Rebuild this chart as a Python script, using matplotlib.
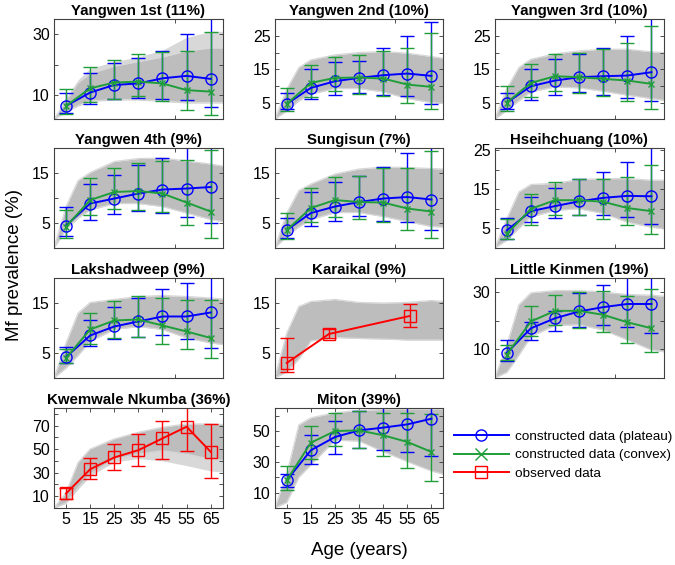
import matplotlib
matplotlib.use("Agg")
import matplotlib.pyplot as plt
from matplotlib.lines import Line2D
import numpy as np

plt.rcParams["font.family"] = ["Liberation Sans", "DejaVu Sans"]

AGES = [5, 15, 25, 35, 45, 55, 65]
BAND_AGES = [0, 5, 10, 15, 25, 35, 45, 55, 65, 70]

# Yangwen 1st
yw1_plat = [6.4, 10.8, 13.3, 13.8, 15.5, 16.3, 15.3]
yw1_plat_lo = [4, 6.9, 8.7, 8.9, 8.7, 8.4, 5.9]
yw1_plat_hi = [10.5, 17.4, 20.7, 22.1, 24.6, 30, 36]
yw1_conv = [6.4, 12.2, 14.1, 14.4, 13.8, 11.6, 11.1]
yw1_conv_lo = [3.7, 7.8, 8.6, 9.5, 8.1, 5, 3.4]
yw1_conv_hi = [12, 19.3, 21.5, 23.4, 24.3, 24.5, 30.9]
yw1_band_lo = [2, 4.5, 6.5, 8, 8.5, 8.5, 8, 7.5, 7.5, 7.5]
yw1_band_hi = [2, 8, 14, 17, 19.5, 21, 22.5, 24.5, 25.5, 25.5]
yw1_halo_lo = [2, 4.3, 6.3, 7.8, 8.3, 8.3, 7.8, 7.3, 7.3, 7.3]
yw1_halo_hi = [2, 9, 15, 18.8, 21, 22.6, 24.8, 29, 31, 31]

# Yangwen 2nd
yw2_plat = [4.6, 9.4, 11.4, 12.4, 13.2, 13.7, 13.0]
yw2_plat_lo = [3, 6, 7.4, 7.9, 7.2, 7, 4.7]
yw2_plat_hi = [8, 15, 17.3, 17.5, 21.5, 25.1, 29.3]
yw2_conv = [4.6, 10.9, 12.4, 12.5, 12.2, 10.4, 9.7]
yw2_conv_lo = [2.4, 6.7, 8.4, 7.7, 7, 4.9, 3]
yw2_conv_hi = [9.4, 16.3, 18.8, 19.3, 20.5, 21.3, 25.8]
yw2_band_lo = [0, 2.5, 5.5, 7.5, 9.2, 9.2, 8.2, 6.2, 5, 4.7]
yw2_band_hi = [0, 9, 15.5, 17.8, 19.3, 20, 20.3, 19.8, 18.8, 18.3]

# Yangwen 3rd
yw3_plat = [5, 9.9, 11.6, 12.6, 12.9, 13.1, 14.1]
yw3_plat_lo = [3, 5.9, 7.4, 8.2, 7.2, 6.4, 5.4]
yw3_plat_hi = [8, 15, 18.1, 19.6, 21.5, 25, 31]
yw3_conv = [5, 10.9, 12.9, 12.6, 12.1, 11.6, 10.6]
yw3_conv_lo = [2.4, 6.7, 8.4, 8, 6.9, 5.4, 3.2]
yw3_conv_hi = [9.9, 16.6, 19.6, 20, 21, 23, 28]
yw3_band_lo = [0, 2.7, 5.5, 8.2, 9.7, 9.4, 8.4, 7.2, 6.2, 5.7]
yw3_band_hi = [0, 9.2, 15.5, 18, 19.6, 20.5, 21, 21, 20.2, 20]

# Yangwen 4th
yw4_plat = [4.5, 8.9, 9.9, 10.9, 11.7, 11.9, 12.2]
yw4_plat_lo = [2.4, 5.7, 6.8, 7.5, 7, 6.3, 5.1]
yw4_plat_hi = [8.3, 12.8, 14.7, 16.6, 18.1, 21, 21]
yw4_conv = [4.3, 9.6, 11.2, 11.4, 10.9, 9.1, 7.3]
yw4_conv_lo = [2.1, 6.6, 7.9, 7.7, 7.3, 4.7, 2.1]
yw4_conv_hi = [7.7, 14, 16.1, 17.1, 17.4, 17.7, 19.7]
yw4_band_lo = [0, 3.7, 6, 7.6, 8.9, 8.9, 8.3, 7, 5.7, 5.3]
yw4_band_hi = [0, 8.3, 13.5, 15.1, 17.3, 17.9, 18, 17.4, 16.8, 16.4]

# Sungisun
sun_plat = [3.6, 7, 8.3, 9.2, 9.9, 10.2, 9.7]
sun_plat_lo = [2, 4.5, 5.5, 6.4, 5.5, 5.3, 3.7]
sun_plat_hi = [6, 11.2, 13.2, 14.5, 16.2, 19, 21]
sun_conv = [3.6, 8, 9.6, 9.2, 9.1, 7.9, 7.3]
sun_conv_lo = [1.9, 5.2, 6.3, 5.8, 5.3, 3.6, 2.1]
sun_conv_hi = [7.1, 12, 14.2, 14.5, 16, 16.1, 19.5]
sun_band_lo = [0, 2.4, 4.2, 5.7, 7.1, 7.1, 6.3, 5.3, 4.3, 4.2]
sun_band_hi = [0, 7, 11.5, 12.8, 14.8, 15.8, 16.2, 16.1, 15.9, 15.8]

# Hseihchuang
hse_plat = [4.5, 9.4, 10.7, 11.9, 12.8, 13.3, 13.2]
hse_plat_lo = [2.4, 6.6, 7.6, 8.5, 8.3, 7.9, 6.2]
hse_plat_hi = [7.6, 13, 15.3, 17.7, 19.3, 22, 27]
hse_conv = [3.6, 10, 12.2, 12.2, 11.8, 10.2, 9.4]
hse_conv_lo = [2.4, 6, 8.3, 8.3, 7.5, 5.8, 3.6]
hse_conv_hi = [7.3, 13.9, 16.9, 17.7, 17.7, 18.2, 21.2]
hse_band_lo = [0, 2, 5, 7.9, 9.6, 10, 8.8, 6.6, 5.3, 4.9]
hse_band_hi = [0, 7.5, 14.3, 16.2, 16.5, 17.5, 17.7, 17.7, 17.3, 17.3]

# Lakshadweep
lak_plat = [4.2, 8.5, 10.3, 11.3, 12.3, 12.3, 13.1]
lak_plat_lo = [3, 6.3, 7.7, 8.2, 8.5, 7.8, 6]
lak_plat_hi = [6.1, 11.5, 14.2, 16, 17.8, 19, 21]
lak_conv = [4, 9.7, 11.5, 11.7, 10.5, 9.3, 8]
lak_conv_lo = [3, 6.7, 8, 8.2, 6.7, 5.7, 4]
lak_conv_hi = [5.7, 13, 15.3, 16.3, 16, 15.5, 15.5]
lak_band_lo = [0, 2, 4.5, 7.3, 9.7, 10.3, 9.7, 8, 7, 6.7]
lak_band_hi = [0, 7, 13, 15.1, 15.7, 16.3, 16.5, 16.3, 16, 15.8]

# Karaikal (observed only)
kar_ages = [5, 22.5, 56]
kar_obs = [3, 8.8, 12.4]
kar_obs_lo = [1.1, 7.9, 10.2]
kar_obs_hi = [7.9, 9.7, 14.7]
kar_band_lo = [0, 1.2, 3.8, 7.4, 8.1, 7.9, 7.8, 7.6, 7.6, 7.6]
kar_band_hi = [0, 9, 14.3, 15.3, 15.7, 15.1, 15, 15.1, 15.5, 15.3]

# Little Kinmen
lkm_plat = [8.8, 17.4, 20.9, 23.3, 24.8, 25.9, 25.9]
lkm_plat_lo = [5.9, 13.3, 16.5, 18, 18.6, 18, 15.6]
lkm_plat_hi = [13.3, 19.5, 23.5, 29.8, 32.7, 36, 36]
lkm_conv = [8.2, 19.8, 23.5, 23.5, 22.1, 19.5, 17.4]
lkm_conv_lo = [6.2, 14.8, 18.4, 17.4, 16.2, 12.1, 9.2]
lkm_conv_hi = [11.5, 25.1, 29.2, 30, 30.4, 28.6, 31]
lkm_band_lo = [0, 2, 8, 14.5, 18.4, 18.6, 16.8, 13.3, 9.8, 9.2]
lkm_band_hi = [0, 11.5, 25.6, 29.8, 30.6, 30.6, 30.1, 29.2, 29, 28.6]

# Kwemwale Nkumba (observed only)
kwe_obs = [12.3, 32.9, 42.9, 49.1, 59.1, 69, 47.7]
kwe_obs_lo = [8, 24.3, 32, 35.7, 41.4, 48, 25.1]
kwe_obs_hi = [17.1, 42.3, 54.3, 62.9, 74.3, 85.7, 71.4]
kwe_band_lo = [0, 4.3, 17, 28.6, 41.4, 45.7, 48.6, 45.7, 41.4, 40.6]
kwe_band_hi = [0, 12.9, 38.6, 50, 58.6, 64.3, 68.6, 71.4, 71.4, 70.9]
kwe_halo_lo = [0, 4, 16, 27, 39, 42, 40, 36, 31.4, 30.5]
kwe_halo_hi = [0, 12.9, 38.6, 50, 58.6, 64.3, 68.6, 71.4, 71.4, 70.9]

# Miton
mit_plat = [18, 37.5, 46.1, 50.4, 52.2, 54.3, 58]
mit_plat_lo = [13.3, 28.4, 35.3, 38.8, 37.5, 36.6, 33.8]
mit_plat_hi = [22, 47.4, 56.5, 63, 66, 66, 66]
mit_conv = [18, 42.4, 50, 50.4, 47.2, 42.9, 36.4]
mit_conv_lo = [11.8, 31.6, 40.3, 38.8, 33.8, 26.2, 17.2]
mit_conv_hi = [27.3, 53.2, 61.9, 63, 61.9, 61.9, 61.2]
mit_band_lo = [0, 3.6, 20, 28, 44, 43.5, 36.6, 30.1, 24, 21.9]
mit_band_hi = [0, 22, 54, 58.6, 61.9, 63.4, 64, 64, 64, 64]

BLUE = "#0000ff"
GREEN = "#1f9e3a"
RED = "#ff0000"
GRAY = "#bdbdbd"
LIGHT = "#d8d8d8"

panels = [
    dict(title="Yangwen 1st (11%)", ylim=(2, 35), major=[10, 30], minor=[20],
         band=(yw1_band_lo, yw1_band_hi), halo=(yw1_halo_lo, yw1_halo_hi),
         plat=(yw1_plat, yw1_plat_lo, yw1_plat_hi), conv=(yw1_conv, yw1_conv_lo, yw1_conv_hi)),
    dict(title="Yangwen 2nd (10%)", ylim=(0, 30), major=[5, 15, 25], minor=[10, 20],
         band=(yw2_band_lo, yw2_band_hi),
         plat=(yw2_plat, yw2_plat_lo, yw2_plat_hi), conv=(yw2_conv, yw2_conv_lo, yw2_conv_hi)),
    dict(title="Yangwen 3rd (10%)", ylim=(0, 30), major=[5, 15, 25], minor=[10, 20],
         band=(yw3_band_lo, yw3_band_hi),
         plat=(yw3_plat, yw3_plat_lo, yw3_plat_hi), conv=(yw3_conv, yw3_conv_lo, yw3_conv_hi)),
    dict(title="Yangwen 4th (9%)", ylim=(0, 20), major=[5, 15], minor=[10],
         band=(yw4_band_lo, yw4_band_hi),
         plat=(yw4_plat, yw4_plat_lo, yw4_plat_hi), conv=(yw4_conv, yw4_conv_lo, yw4_conv_hi)),
    dict(title="Sungisun (7%)", ylim=(0, 20), major=[5, 15], minor=[10],
         band=(sun_band_lo, sun_band_hi),
         plat=(sun_plat, sun_plat_lo, sun_plat_hi), conv=(sun_conv, sun_conv_lo, sun_conv_hi)),
    dict(title="Hseihchuang (10%)", ylim=(0, 25.5), major=[5, 15, 25], minor=[10, 20],
         band=(hse_band_lo, hse_band_hi),
         plat=(hse_plat, hse_plat_lo, hse_plat_hi), conv=(hse_conv, hse_conv_lo, hse_conv_hi)),
    dict(title="Lakshadweep (9%)", ylim=(0, 20), major=[5, 15], minor=[10],
         band=(lak_band_lo, lak_band_hi),
         plat=(lak_plat, lak_plat_lo, lak_plat_hi), conv=(lak_conv, lak_conv_lo, lak_conv_hi)),
    dict(title="Karaikal (9%)", ylim=(0, 20), major=[5, 15], minor=[10],
         band=(kar_band_lo, kar_band_hi),
         obs=(kar_ages, kar_obs, kar_obs_lo, kar_obs_hi)),
    dict(title="Little Kinmen (19%)", ylim=(0, 35), major=[10, 30], minor=[20],
         band=(lkm_band_lo, lkm_band_hi),
         plat=(lkm_plat, lkm_plat_lo, lkm_plat_hi), conv=(lkm_conv, lkm_conv_lo, lkm_conv_hi)),
    dict(title="Kwemwale Nkumba (36%)", ylim=(0, 85), major=[10, 30, 50, 70], minor=[20, 40, 60, 80],
         band=(kwe_band_lo, kwe_band_hi), halo=(kwe_halo_lo, kwe_halo_hi),
         obs=(AGES, kwe_obs, kwe_obs_lo, kwe_obs_hi)),
    dict(title="Miton (39%)", ylim=(0, 65), major=[10, 30, 50], minor=[20, 40, 60],
         band=(mit_band_lo, mit_band_hi),
         plat=(mit_plat, mit_plat_lo, mit_plat_hi), conv=(mit_conv, mit_conv_lo, mit_conv_hi)),
]


def draw_err(ax, x, vals, lo, hi, color, marker, ms):
    vals = np.asarray(vals)
    yerr = [vals - np.asarray(lo), np.asarray(hi) - vals]
    ax.errorbar(x, vals, yerr=yerr, color=color, marker=marker, mfc="none", mec=color,
                ms=ms, mew=1.0, lw=1.4, elinewidth=1.0, capsize=5, capthick=1.0)


fig = plt.figure(figsize=(6.75, 5.65), dpi=100)
lefts = [0.080, 0.407, 0.733]
bottoms = [0.789, 0.561, 0.331, 0.101]
w, h = 0.250, 0.177

for i, p in enumerate(panels):
    r, c = divmod(i, 3)
    ax = fig.add_axes([lefts[c], bottoms[r], w, h])
    if "halo" in p:
        ax.fill_between(BAND_AGES, p["halo"][0], p["halo"][1], color=LIGHT, lw=0)
    lo, hi = p["band"]
    ax.fill_between(BAND_AGES, lo, hi, color=GRAY, lw=0)
    ax.plot(BAND_AGES, lo, color=LIGHT, lw=0.9)
    ax.plot(BAND_AGES, hi, color=LIGHT, lw=0.9)
    if "plat" in p:
        draw_err(ax, AGES, *p["plat"], BLUE, "o", 8)
        draw_err(ax, AGES, *p["conv"], GREEN, "x", 5)
    if "obs" in p:
        x, v, olo, ohi = p["obs"]
        draw_err(ax, x, v, olo, ohi, RED, "s", 8)
    ax.set_xlim(0, 70)
    ax.set_ylim(*p["ylim"])
    ax.set_yticks(p["major"])
    ax.set_yticks(p["minor"], minor=True)
    if i >= 9:
        ax.set_xticks(AGES)
    else:
        ax.set_xticks([0, 50])
        ax.set_xticklabels([])
    ax.set_title(p["title"], fontsize=10.8, fontweight="bold", pad=3)
    ax.tick_params(which="both", direction="in", top=True, right=True, length=3,
                   width=0.6, labelsize=11.5, pad=3, color="0.2")
    for s in ax.spines.values():
        s.set_color("0.25")
        s.set_linewidth(0.8)

fig.text(0.022, 0.531, "Mf prevalence (%)", rotation=90, ha="center", va="center", fontsize=13.5)
fig.text(0.533, 0.025, "Age (years)", ha="center", va="center", fontsize=13.5)

handles = [
    Line2D([], [], color=BLUE, marker="o", mfc="none", ms=8, lw=1.4),
    Line2D([], [], color=GREEN, marker="x", ms=8, lw=1.4),
    Line2D([], [], color=RED, marker="s", mfc="none", ms=8, lw=1.4),
]
labels = ["constructed data (plateau)", "constructed data (convex)", "observed data"]
fig.legend(handles, labels, loc="upper left", bbox_to_anchor=(0.672, 0.238), frameon=False,
           fontsize=9.7, handlelength=4.1, handletextpad=0.45, labelspacing=0.45,
           borderpad=0, borderaxespad=0)

fig.savefig("out.png", dpi=100)
